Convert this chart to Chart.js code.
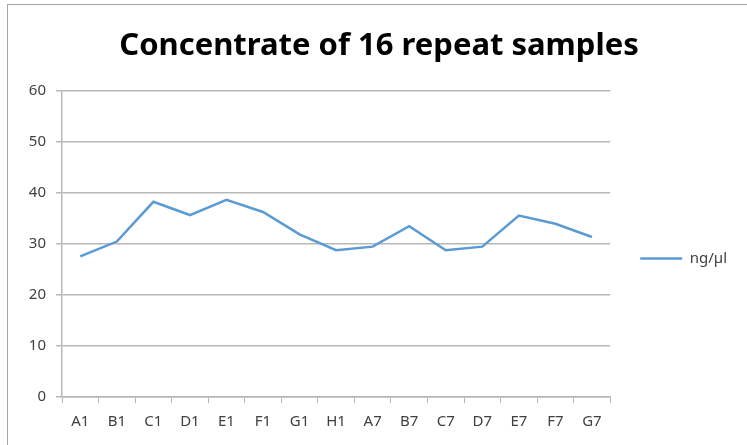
<!DOCTYPE html>
<html lang="en">
<head>
    <meta charset="UTF-8">
    <title>Concentrate of 16 repeat samples</title>
    <script src="https://cdn.jsdelivr.net/npm/chart.js"></script>
    <style>
        html, body { margin: 0; padding: 0; background: #fff; }
        #frame { position: absolute; left: 7px; top: 4px; width: 760px; height: 460px; border: 1px solid #a6a6a6; }
        #wrap { position: absolute; left: 0; top: 0; width: 747px; height: 445px; }
    </style>
</head>
<body>
    <div id="frame"></div>
    <div id="wrap"><canvas id="concChart" width="747" height="445"></canvas></div>
    <script>
        // 샘플 이름과 농도 값 (ng/µl)
        const samples = ['A1', 'B1', 'C1', 'D1', 'E1', 'F1', 'G1', 'H1', 'A7', 'B7', 'C7', 'D7', 'E7', 'F7', 'G7'];
        const concentration = [27.6, 30.5, 38.3, 35.7, 38.7, 36.3, 31.9, 28.8, 29.5, 33.5, 28.8, 29.5, 35.6, 34.0, 31.4];
        const yTicks = [0, 10, 20, 30, 40, 50, 60];

        const gridColor = '#b7b7b7';
        const textColor = '#404040';
        const tickFont = { family: "'Noto Sans', sans-serif", size: 15 };

        const ctx = document.getElementById('concChart').getContext('2d');
        new Chart(ctx, {
            type: 'line',
            data: {
                labels: samples,
                datasets: [{
                    label: 'ng/µl',
                    data: concentration,
                    borderColor: '#5b9bd5',
                    backgroundColor: '#5b9bd5',
                    borderWidth: 2.5,
                    pointRadius: 0,
                    tension: 0,
                    fill: false
                }]
            },
            options: {
                responsive: false,
                animation: false,
                layout: { padding: { left: 21, right: 10, top: 0, bottom: 4 } },
                plugins: {
                    title: {
                        display: true,
                        text: 'Concentrate of 16 repeat samples',
                        color: '#000',
                        font: { family: "'Noto Sans', sans-serif", size: 31, weight: 'bold' },
                        padding: { top: 28, bottom: 26 }
                    },
                    legend: {
                        position: 'right',
                        // 빈 제목으로 범례를 아래로 밀기
                        title: { display: true, text: ' ', font: { size: 10 }, padding: { top: 0, bottom: 64 } },
                        labels: {
                            usePointStyle: true,
                            pointStyle: 'line',
                            pointStyleWidth: 42,
                            color: textColor,
                            font: tickFont,
                            padding: 30
                        }
                    },
                    tooltip: { enabled: false }
                },
                scales: {
                    x: {
                        offset: true,
                        grid: {
                            display: true,
                            drawOnChartArea: false,
                            offset: true,
                            color: gridColor,
                            tickLength: 6
                        },
                        border: { color: gridColor, width: 1.5 },
                        ticks: { color: textColor, font: tickFont, padding: 10, maxRotation: 0, autoSkip: false }
                    },
                    y: {
                        min: 0,
                        max: 60,
                        afterBuildTicks: (scale) => { scale.ticks = yTicks.map(v => ({ value: v })); },
                        afterFit: (scale) => { scale.width = 41; },
                        grid: { color: gridColor, lineWidth: 1.5, tickLength: 6 },
                        border: { color: gridColor, width: 1.5 },
                        ticks: { color: textColor, font: tickFont, padding: 10 }
                    }
                }
            }
        });
    </script>
</body>
</html>
